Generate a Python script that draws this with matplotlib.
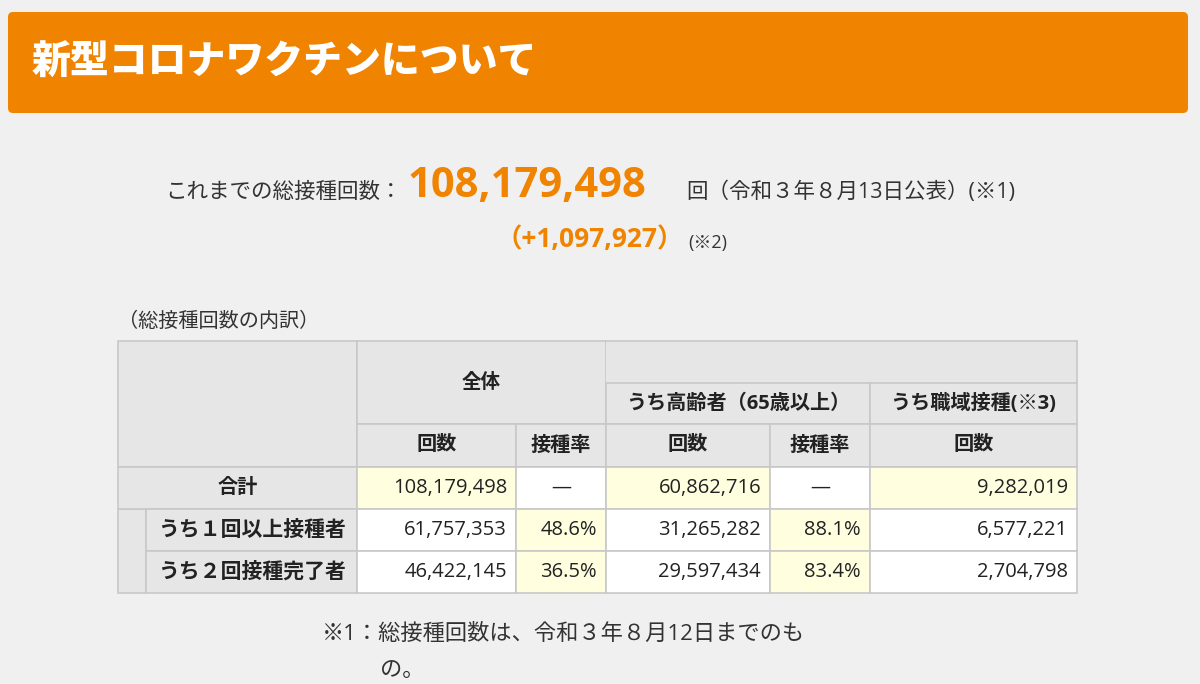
import matplotlib
matplotlib.use("Agg")
import matplotlib.pyplot as plt
from matplotlib.patches import Rectangle, FancyBboxPatch

plt.rcParams['font.family'] = ['Open Sans', 'Noto Sans CJK JP', 'DejaVu Sans']

title = "新型コロナワクチンについて"
total_doses = "108,179,498"
daily_increase = "（+1,097,927）"
row_labels = ["合計", "うち１回以上接種者", "うち２回接種完了者"]
all_count = ["108,179,498", "61,757,353", "46,422,145"]
all_rate = ["—", "48.6%", "36.5%"]
elder_count = ["60,862,716", "31,265,282", "29,597,434"]
elder_rate = ["—", "88.1%", "83.4%"]
work_count = ["9,282,019", "6,577,221", "2,704,798"]

fig = plt.figure(figsize=(12, 6.84), dpi=100)
fig.patch.set_facecolor("#eff0ef")
ax = fig.add_axes([0, 0, 1, 1])
ax.set_xlim(0, 1200)
ax.set_ylim(684, 0)
ax.axis("off")

# banner
ax.add_patch(FancyBboxPatch((8, 12), 1180, 101, boxstyle="round,pad=0,rounding_size=5",
                            fc="#f08300", ec="none"))
ax.text(32, 63, title, color="white", fontsize=28, fontweight="heavy", va="center")

# headline
orange = "#f08300"
ax.text(402, 192, "これまでの総接種回数：", fontsize=15.5, ha="right", va="center", color="#333333")
ax.text(408, 186, total_doses, fontsize=30, fontweight="bold", ha="left", va="center", color=orange)
ax.text(686, 192, "回（令和３年８月13日公表）(※1)", fontsize=15.5, ha="left", va="center", color="#333333")
ax.text(684, 240, daily_increase, fontsize=19, fontweight="bold", ha="right", va="center", color=orange)
ax.text(688, 243, "(※2)", fontsize=13, ha="left", va="center", color="#333333")
ax.text(118, 322, "（総接種回数の内訳）", fontsize=14.5, ha="left", va="center", color="#333333")

hdr = "#e6e6e6"
yel = "#ffffe0"
wht = "#ffffff"
bd = "#c8c8c8"


def cell(x0, y0, x1, y1, fc, txt="", ha="center", bold=False, pad=10, size=14):
    ax.add_patch(Rectangle((x0, y0), x1 - x0, y1 - y0, fc=fc, ec=bd, lw=1.2))
    if txt:
        if ha == "center":
            tx = (x0 + x1) / 2
        elif ha == "right":
            tx = x1 - pad
        else:
            tx = x0 + pad
        ax.text(tx, (y0 + y1) / 2, txt, fontsize=size, ha=ha, va="center", color="#222222",
                fontweight="bold" if bold else "normal")


xs = [118, 357, 516, 606, 770, 870, 1077]
# header
cell(118, 341, 357, 467, hdr)
cell(357, 341, 606, 424, hdr, "全体", bold=True)
ax.add_patch(Rectangle((606, 341), 471, 42, fc=hdr, ec="none"))
ax.plot([606, 1077], [341, 341], color=bd, lw=1.2)
ax.plot([1077, 1077], [341, 383], color=bd, lw=1.2)
cell(606, 383, 870, 424, hdr, "うち高齢者（65歳以上）", bold=True, size=14.5)
cell(870, 383, 1077, 424, hdr, "うち職域接種(※3)", bold=True, size=14.5)
for i, lab in enumerate(["回数", "接種率", "回数", "接種率", "回数"]):
    cell(xs[i + 1], 424, xs[i + 2], 467, hdr, lab, bold=True, size=14.5)

# body
ys = [467, 509, 551, 593]
cell(118, 509, 146, 593, hdr)
for r in range(3):
    y0, y1 = ys[r], ys[r + 1]
    if r == 0:
        cell(118, y0, 357, y1, hdr, row_labels[r], bold=True, size=14.5)
    else:
        cell(146, y0, 357, y1, hdr, row_labels[r], bold=True, size=15)
    vals = [all_count[r], all_rate[r], elder_count[r], elder_rate[r], work_count[r]]
    for c, v in enumerate(vals):
        is_rate = c in (1, 3)
        if r == 0:
            fc = wht if is_rate else yel
        else:
            fc = yel if is_rate else wht
        ha = "center" if (is_rate and r == 0) else "right"
        cell(xs[c + 1], y0, xs[c + 2], y1, fc, v, ha=ha, pad=9, size=14.5)

ax.text(322, 634, "※1：総接種回数は、令和３年８月12日までのも", fontsize=16, ha="left", va="center", color="#333333")
ax.text(380, 670, "の。", fontsize=16, ha="left", va="center", color="#333333")

fig.savefig("out.png", dpi=100, facecolor=fig.get_facecolor())
